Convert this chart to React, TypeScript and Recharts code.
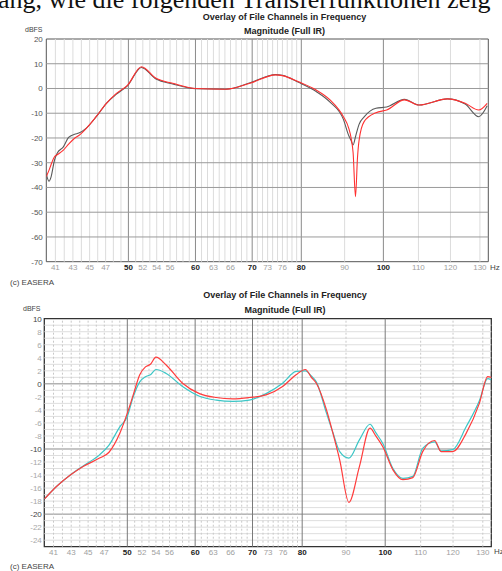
import React from 'react';
import { LineChart, Line, XAxis, YAxis, ReferenceLine, ReferenceArea } from 'recharts';

// frequency axis (Hz, log scale)
const xTicks = [41, 43, 45, 47, 50, 52, 54, 56, 60, 63, 66, 70, 73, 76, 80, 90, 100, 110, 120, 130];
const majorX = [50, 60, 70, 80, 100];
const minorX = [
  41, 42, 43, 44, 45, 46, 47, 48, 49, 51, 52, 53, 54, 55, 56, 57, 58, 59,
  61, 62, 63, 64, 65, 66, 67, 68, 69, 71, 72, 73, 74, 75, 76, 77, 78, 79,
  90, 110, 120, 130,
];

// top chart: red vs grey channel
const topFreq = [
  40.0, 40.3, 40.5, 40.9, 41.2, 41.9, 42.5, 43.2, 43.7, 44.6, 45.8, 47.1, 48.4, 49.9,
  51.8, 53.9, 56.4, 60.1, 65.2, 69.6, 74.6, 76.0, 79.4, 83.3, 86.5, 89.7, 91.0, 91.6,
  92.1, 92.7, 93.2, 93.6, 94.9, 98.0, 100.9, 105.9, 110.2, 119.0, 124.9, 129.6, 132.6,
];
const topRed = [
  -35.6, -33, -31, -27.6, -26.8, -24.9, -22.5, -20.1, -19, -16.1, -11.4, -6, -2, 1.4,
  8.8, 4.1, 2.1, 0, -0.3, 2.1, 5.5, 5.2, 2.7, -0.6, -4.6, -11.4, -16, -20,
  -26, -43.7, -28, -21, -13.4, -9.8, -8.7, -4.6, -6.7, -4.2, -6, -8.7, -6,
];
const topGray = [
  -34.5, -37.5, -36, -29, -26.2, -23.6, -19.8, -18.5, -18, -16, -11.5, -6, -2.3, 1.2,
  8.5, 3.8, 1.8, -0.1, -0.3, 2.3, 5.6, 5.3, 2.5, -1.2, -5.5, -12.5, -19, -21,
  -22.8, -19.5, -16.5, -14.5, -11.5, -8, -7.5, -4.4, -6.7, -4.2, -6.3, -11.4, -7,
];
const topYTicks = [-70, -60, -50, -40, -30, -20, -10, 0, 10, 20];
const topHLines = [-60, -50, -40, -30, -20, -10, 0, 10];

// bottom chart: red vs cyan channel
const botFreq = [
  40.0, 41.3, 42.9, 44.4, 46.4, 47.6, 49.0, 50.0, 50.8, 51.7, 52.5, 53.2, 54.0, 55.5,
  58.0, 60.7, 63.5, 66.4, 69.4, 72.6, 75.9, 78.7, 80.7, 82.0, 83.1, 85.4, 86.9, 88.5,
  90.7, 93.3, 96.0, 97.5, 99.4, 102.1, 104.9, 107.7, 110.6, 114.2, 116.2, 119.9, 124.3,
  128.8, 131.7, 133.0,
];
const botRed = [
  -17.7, -15.8, -14.0, -12.7, -11.4, -10.5, -7.6, -4.5, -1.7, 1.4, 2.6, 3.0, 4.1, 2.9,
  0.1, -1.5, -2.1, -2.3, -2.1, -1.7, -0.4, 1.4, 2.2, 1.0, 0.1, -4.0, -7.6, -11.7,
  -18.2, -12.7, -6.8, -8.0, -9.7, -13.2, -14.7, -14.4, -10.4, -8.7, -10.4, -10.4, -7.6,
  -3.0, 1.1, 1.0,
];
const botCyan = [
  -17.7, -15.8, -14.0, -12.6, -10.9, -9.4, -6.6, -5.0, -2.0, 0.3, 1.1, 1.4, 2.2, 1.6,
  -0.4, -1.9, -2.5, -2.7, -2.5, -1.5, 0.1, 1.9, 2.0, 1.2, 0.3, -4.5, -7.5, -10.4,
  -11.4, -8.6, -6.2, -7.5, -9.2, -13.0, -14.5, -14.2, -9.9, -8.9, -10.3, -10.1, -6.6,
  -2.6, 0.8, 0.6,
];
const botYTicks = [-24, -22, -20, -18, -16, -14, -12, -10, -8, -6, -4, -2, 0, 2, 4, 6, 8, 10];
const botMajorY = [-20, -10, 0, 10];
const botHLines = [
  -24, -23, -22, -21, -19, -18, -17, -16, -15, -14, -13, -12, -11, -9, -8, -7, -6, -5,
  -4, -3, -2, -1, 1, 2, 3, 4, 5, 6, 7, 8, 9,
];

const topData = topFreq.map((f, i) => ({ f, red: topRed[i], gray: topGray[i] }));
const botData = botFreq.map((f, i) => ({ f, red: botRed[i], cyan: botCyan[i] }));

const FONT = '"Liberation Sans", Arial, sans-serif';

const XTick = ({ x, y, payload }: any) => {
  const major = majorX.includes(payload.value);
  return (
    <text x={x} y={y + 8.5} textAnchor="middle" fontSize={8} fontFamily={FONT}
      fill={major ? '#222' : '#a0a0a0'} fontWeight={major ? 'bold' : 'normal'}>
      {payload.value}
    </text>
  );
};

const TopYTick = ({ x, y, payload }: any) => (
  <text x={x - 3.5} y={y + 3} textAnchor="end" fontSize={8} fontFamily={FONT} fill="#555">
    {payload.value}
  </text>
);

const BotYTick = ({ x, y, payload }: any) => {
  const major = botMajorY.includes(payload.value);
  return (
    <text x={x - 2.5} y={y + 3} textAnchor="end" fontSize={8} fontFamily={FONT}
      fill={major ? '#444' : '#a8a8a8'}>
      {payload.value}
    </text>
  );
};

const Labels = () => (
  <svg width={502} height={571} style={{ position: 'absolute', left: 0, top: 0, pointerEvents: 'none' }}>
    <text x={-2} y={7.5} fontSize={26} fontFamily='"Liberation Serif", "Times New Roman", serif' fill="#111">
      ang, wie die folgenden Transferfunktionen zeig
    </text>
    <g fontFamily={FONT} fill="#222">
      <text x={284.5} y={20} fontSize={9} fontWeight="bold" textAnchor="middle">Overlay of File Channels in Frequency</text>
      <text x={284.5} y={34} fontSize={9} fontWeight="bold" textAnchor="middle">Magnitude (Full IR)</text>
      <text x={25} y={32} fontSize={7} fill="#444">dBFS</text>
      <text x={490} y={270} fontSize={8} fill="#444">Hz</text>
      <text x={10} y={285} fontSize={8} fill="#444">(c) EASERA</text>

      <text x={285} y={298} fontSize={9} fontWeight="bold" textAnchor="middle">Overlay of File Channels in Frequency</text>
      <text x={285} y={312.5} fontSize={9} fontWeight="bold" textAnchor="middle">Magnitude (Full IR)</text>
      <text x={23} y={311} fontSize={7} fill="#444">dBFS</text>
      <text x={494} y={554} fontSize={8} fill="#444">Hz</text>
      <text x={10} y={569} fontSize={8} fill="#444">(c) EASERA</text>
    </g>
  </svg>
);

const TopChart = () => (
  <LineChart width={502} height={290} data={topData}
    margin={{ top: 39, right: 13.7, bottom: 8.3, left: 0 }}>
    <XAxis dataKey="f" type="number" scale="log" domain={[40, 133]} allowDataOverflow
      ticks={xTicks} interval={0} tick={<XTick />} tickSize={0} tickMargin={0}
      axisLine={false} tickLine={false} height={20} />
    <YAxis type="number" domain={[-70, 20]} allowDataOverflow ticks={topYTicks} interval={0}
      tick={<TopYTick />} tickSize={0} tickMargin={0} axisLine={false} tickLine={false} width={46.3} />
    {minorX.map((v) => (
      <ReferenceLine key={'mx' + v} x={v} stroke="#dcdcdc" strokeWidth={1} />
    ))}
    {majorX.map((v) => (
      <ReferenceLine key={'Mx' + v} x={v} stroke="#8a8a8a" strokeWidth={1} />
    ))}
    {topHLines.map((v) => (
      <ReferenceLine key={'h' + v} y={v} stroke="#9a9a9a" strokeWidth={1} />
    ))}
    <ReferenceArea x1={40} x2={133} y1={-70} y2={20} fill="none" fillOpacity={0} stroke="#555" strokeWidth={1} />
    <Line dataKey="gray" stroke="#5a5a5a" strokeWidth={1.1} dot={false} type="monotone" isAnimationActive={false} />
    <Line dataKey="red" stroke="#ff3030" strokeWidth={1.1} dot={false} type="monotone" isAnimationActive={false} />
  </LineChart>
);

const BottomChart = () => (
  <LineChart width={502} height={291} data={botData}
    margin={{ top: 38.7, right: 10.7, bottom: 4.3, left: 0 }}>
    <XAxis dataKey="f" type="number" scale="log" domain={[40, 133]} allowDataOverflow
      ticks={xTicks} interval={0} tick={<XTick />} tickSize={0} tickMargin={0}
      axisLine={false} tickLine={false} height={20} />
    <YAxis type="number" domain={[-25, 10]} allowDataOverflow ticks={botYTicks} interval={0}
      tick={<BotYTick />} tickSize={0} tickMargin={0} axisLine={false} tickLine={false} width={44.3} />
    {botHLines.map((v) => (
      <ReferenceLine key={'h' + v} y={v} stroke="#dedede" strokeWidth={1} />
    ))}
    {[-20, -10, 0].map((v) => (
      <ReferenceLine key={'H' + v} y={v} stroke="#8c8c8c" strokeWidth={1} />
    ))}
    {minorX.map((v) => (
      <ReferenceLine key={'mx' + v} x={v} stroke="#c8c8c8" strokeWidth={1} strokeDasharray="2 2" />
    ))}
    {majorX.map((v) => (
      <ReferenceLine key={'Mx' + v} x={v} stroke="#7a7a7a" strokeWidth={1} />
    ))}
    <ReferenceArea x1={40} x2={133} y1={-25} y2={10} fill="none" fillOpacity={0} stroke="#333" strokeWidth={1.3} />
    <Line dataKey="cyan" stroke="#3cc6c6" strokeWidth={1.2} dot={false} type="monotone" isAnimationActive={false} />
    <Line dataKey="red" stroke="#ff3c3c" strokeWidth={1.2} dot={false} type="monotone" isAnimationActive={false} />
  </LineChart>
);

export default function App() {
  return (
    <div style={{ position: 'absolute', left: 0, top: 0, width: 502, height: 571, overflow: 'hidden', background: '#fff' }}>
      <div style={{ position: 'absolute', left: 0, top: 0 }}>
        <TopChart />
      </div>
      <div style={{ position: 'absolute', left: 0, top: 280 }}>
        <BottomChart />
      </div>
      <Labels />
    </div>
  );
}
